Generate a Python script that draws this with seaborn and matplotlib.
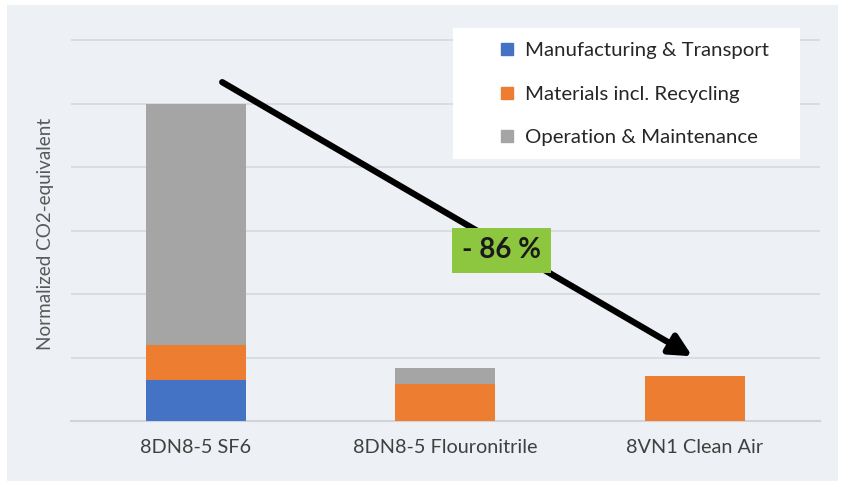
import matplotlib
matplotlib.use("Agg")
import matplotlib.pyplot as plt
import seaborn as sns
import numpy as np
import pandas as pd
from matplotlib.patches import Rectangle
from matplotlib.lines import Line2D

categories = ["8DN8-5 SF6", "8DN8-5 Flouronitrile", "8VN1 Clean Air"]
manufacturing = [0.65, 0.0, 0.0]
materials = [0.55, 0.58, 0.71]
operation = [3.80, 0.25, 0.0]
series_names = ["Manufacturing & Transport", "Materials incl. Recycling", "Operation & Maintenance"]
colors = ["#4472c4", "#ed7d31", "#a5a5a5"]

sns.set_theme(style="white")
plt.rcParams["font.family"] = ["Lato", "DejaVu Sans"]

fig = plt.figure(figsize=(8.47, 4.88), dpi=100, facecolor="white")
fig.patches.append(Rectangle((7/847, 1-481/488), 831/847, 476/488, transform=fig.transFigure,
                             facecolor="#edf0f4", edgecolor="none", zorder=-10))
ax = fig.add_axes([71/847, 1-421/488, 748.5/847, 382/488])
ax.set_facecolor("none")

m = np.array(manufacturing); mt = np.array(materials); op = np.array(operation)
df = pd.DataFrame({"cat": categories, "l1": m, "l2": m + mt, "l3": m + mt + op})
for col, c in zip(["l3", "l2", "l1"], colors[::-1]):
    sns.barplot(data=df, x="cat", y=col, color=c, width=0.4, saturation=1, ax=ax, zorder=3,
                linewidth=0, edgecolor="none")

ax.set_xlim(-0.5, 2.5)
ax.set_ylim(0, 6.02)
ax.set_yticks(np.arange(0, 7, 1))
ax.set_yticklabels([])
ax.tick_params(axis="y", length=0)
ax.tick_params(axis="x", length=0, pad=13, labelsize=14.3, labelcolor="#404040")
ax.grid(axis="y", color="#d7dbe0", linewidth=1.3, zorder=0)
ax.set_axisbelow(True)
for s in ["top", "right", "left"]:
    ax.spines[s].set_visible(False)
ax.spines["bottom"].set_color("#d0d4d9")
ax.spines["bottom"].set_linewidth(1.5)
ax.set_xlabel("")
ax.set_ylabel("Normalized CO2-equivalent", fontsize=13.6, color="#595959", labelpad=9)
ax.yaxis.label.set_y(0.49)

# arrow
ax.annotate("", xy=(1.99, 1.02), xytext=(0.106, 5.34),
            arrowprops=dict(arrowstyle="-|>,head_length=1.1,head_width=0.55", color="black",
                            lw=4.5, shrinkA=0, shrinkB=0), zorder=5)
ax.text(1.225, 2.69, "- 86 %", fontsize=20, fontweight="bold", color="#1a1a1a", ha="center", va="center",
        bbox=dict(boxstyle="square,pad=0.35", facecolor="#8dc63f", edgecolor="none"), zorder=6)

# legend box
fig.patches.append(Rectangle((453/847, 1-159/488), 347/847, 131/488, transform=fig.transFigure,
                             facecolor="white", edgecolor="none", zorder=4))
handles = [Line2D([], [], marker="s", linestyle="none", markersize=9, color=c) for c in colors]
leg = fig.legend(handles, series_names, loc="upper left", bbox_to_anchor=(497/847, 1-42/488),
                 frameon=False, fontsize=14.7, handletextpad=0.35,
                 labelspacing=1.28, borderpad=0, handlelength=1.0, borderaxespad=0)
leg.set_zorder(5)
for t in leg.get_texts():
    t.set_color("#262626")

fig.savefig("out.png", dpi=100, facecolor="white")
